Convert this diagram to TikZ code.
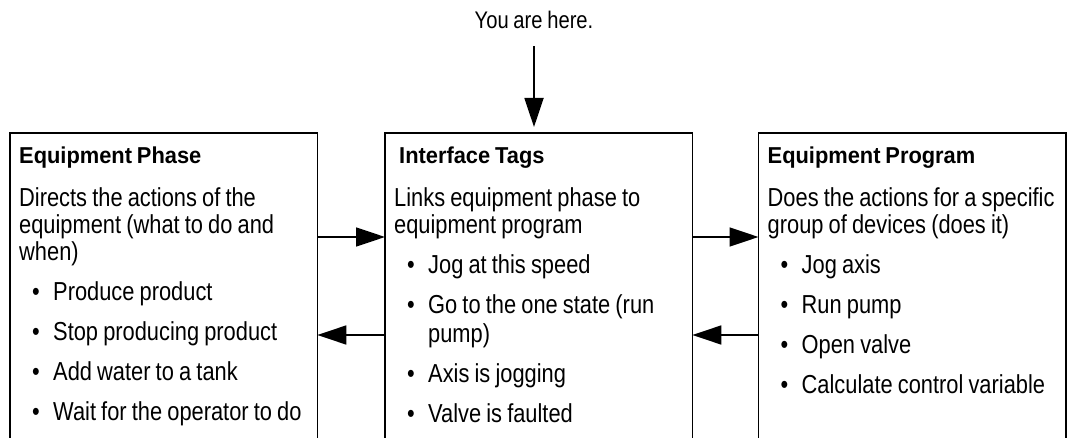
\documentclass[tikz,border=0pt]{standalone}
\usepackage{fontspec}
\setmainfont{Liberation Sans}[FakeStretch=0.84,WordSpace=0.85]
\newfontfamily\headfont{Liberation Sans}[FakeStretch=0.95,WordSpace=0.8]
\usetikzlibrary{arrows.meta}

\newcommand{\head}[1]{\rule{0pt}{31pt}{\headfont\bfseries\fontsize{23}{27}\selectfont\spaceskip=0pt #1}}
\newcommand{\txtline}[1]{\mbox{\spaceskip=0pt #1}}
\newcommand{\bul}[1]{\mbox{\spaceskip=0pt\hspace*{13pt}\makebox[21pt][l]{\textbullet}#1}}
\newcommand{\cont}[1]{\mbox{\spaceskip=0pt\hspace*{34pt}#1}}

\begin{document}
\begin{tikzpicture}[x=1pt,y=-1pt,
  frame/.style={line width=1.8pt},
  flow/.style={line width=1.8pt,-{Triangle[length=29pt,width=19pt]}},
  card/.style={anchor=north west,inner xsep=9pt,inner ysep=0pt,
    text width=289pt,align=left,font=\fontsize{26}{27}\selectfont}]
  \path[use as bounding box,fill=white] (0,0) rectangle (1068,438);
  \coordinate (bot) at (0,438);

  \node[anchor=base,inner sep=0pt,font=\fontsize{24}{27}\selectfont]
    (here) at (534,28.3) {You are here.};

  \node[card] (phase) at (10,132.7) {\head{Equipment Phase}\\[16pt]
    \txtline{Directs the actions of the}\\
    \txtline{equipment (what to do and}\\
    \txtline{when)}\\[13pt]
    \bul{Produce product}\\[13pt]
    \bul{Stop producing product}\\[13pt]
    \bul{Add water to a tank}\\[13pt]
    \bul{Wait for the operator to do}};
  \node[card] (tags) at (385,132.7) {\head{\hspace*{5pt}Interface Tags}\\[16pt]
    \txtline{Links equipment phase to}\\
    \txtline{equipment program}\\[13pt]
    \bul{Jog at this speed}\\[13pt]
    \bul{Go to the one state (run}\\[2pt]
    \cont{pump)}\\[13pt]
    \bul{Axis is jogging}\\[13pt]
    \bul{Valve is faulted}};
  \node[card] (prog) at (758.5,132.7) {\head{Equipment Program}\\[16pt]
    \txtline{Does the actions for a specific}\\
    \txtline{group of devices (does it)}\\[13pt]
    \bul{Jog axis}\\[13pt]
    \bul{Run pump}\\[13pt]
    \bul{Open valve}\\[13pt]
    \bul{Calculate control variable}};

  \foreach \b in {phase,tags,prog}
    \draw[frame] (\b.north west |- bot) -- (\b.north west)
      -- (\b.north east) -- (\b.north east |- bot);

  \draw[flow,shorten <=17.7pt,shorten >=5.7pt] (here.south) -- (here.south |- tags.north);
  \draw[flow] ([yshift=-104.3pt]phase.north east) -- ([yshift=-104.3pt]tags.north west);
  \draw[flow] ([yshift=-104.3pt]tags.north east) -- ([yshift=-104.3pt]prog.north west);
  \draw[flow] ([yshift=-202.3pt]tags.north west) -- ([yshift=-202.3pt]phase.north east);
  \draw[flow] ([yshift=-202.3pt]prog.north west) -- ([yshift=-202.3pt]tags.north east);
\end{tikzpicture}
\end{document}
